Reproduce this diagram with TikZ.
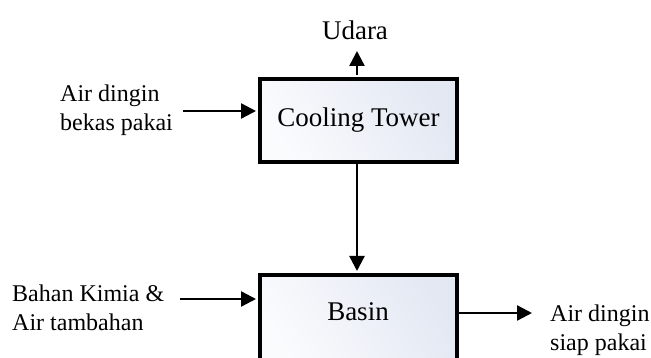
\documentclass[tikz,border=0pt]{standalone}
\usepackage{fontspec}
\setmainfont{Liberation Serif}
\usetikzlibrary{arrows.meta,calc}
\definecolor{boxa}{HTML}{E3E8F3}
\definecolor{boxb}{HTML}{FAFBFD}
\tikzset{
  procbox/.style={draw=black, line width=4pt, minimum width=197pt, minimum height=83pt,
    inner sep=0pt, shading=axis, left color=boxa, right color=boxb, shading angle=-60,
    font=\fontsize{27}{30}\selectfont},
  innerline/.style={draw=black, line width=1.2pt},
  sidelabel/.style={align=left, inner sep=0pt, font=\fontsize{24}{28.5}\selectfont},
  toplabel/.style={inner sep=0pt, font=\fontsize{27}{30}\selectfont},
  flow/.style={line width=2.4pt, -{Triangle[length=15pt,width=15pt]}},
}
\begin{document}
\begin{tikzpicture}[x=1pt,y=1pt]
\useasboundingbox (0,0) rectangle (651,-358);
\clip (0,0) rectangle (651,-358);
% boxes
\node[procbox] (ct) at (358.5,-120.5) {Cooling Tower};
\draw[innerline] ($(ct.north west)+(3.5,-3.5)$) rectangle ($(ct.south east)+(-3.5,3.5)$);
\node[procbox, minimum height=92pt] (basin) at (358.5,-321) {};
\draw[innerline] ($(basin.north west)+(3.5,-3.5)$) rectangle ($(basin.south east)+(-3.5,3.5)$);
\node[toplabel] (basintxt) at (358,-312) {Basin};
% labels
\node[toplabel] (udara) at (355,-30) {Udara};
\node[sidelabel, anchor=west] (inlab) at (60,-110) {Air dingin\\bekas pakai};
\node[sidelabel, anchor=west] (chemlab) at (12,-308) {Bahan Kimia \&\\Air tambahan};
\node[sidelabel, anchor=west] (outlab) at (550,-330) {Air dingin\\siap pakai};
% connector end points
\coordinate (upend) at (357,-51);
\coordinate (instart) at (183,-111);
\coordinate (chemstart) at (180,-299);
\coordinate (outend) at (532,-313);
% connectors
\draw[flow] (ct.north -| upend) ++(0,2) -- (upend);
\draw[flow, shorten >=2pt] (instart) -- (ct.west |- instart);
\draw[flow, shorten >=2pt, shorten <=-2pt] (ct.south -| upend) -- (basin.north -| upend);
\draw[flow, shorten >=2pt] (chemstart) -- (basin.west |- chemstart);
\draw[flow] (basin.east |- outend) -- (outend);
\end{tikzpicture}
\end{document}
